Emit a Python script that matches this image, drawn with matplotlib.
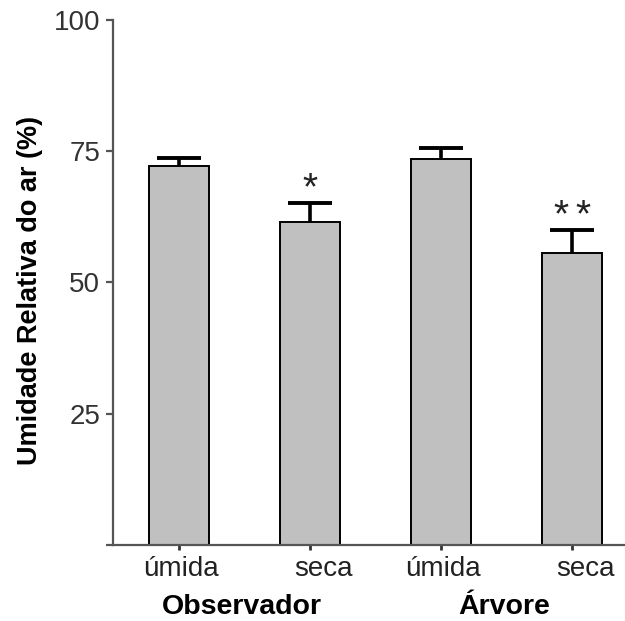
import matplotlib
matplotlib.use("Agg")
import matplotlib.pyplot as plt
from matplotlib.transforms import blended_transform_factory

# Relative air humidity by season, measured at the observer and at the tree
conditions = ["úmida", "seca", "úmida", "seca"]
groups = ["Observador", "Árvore"]
humidity = [72.2, 61.5, 73.6, 55.6]
sem = [1.6, 3.7, 2.0, 4.4]
significance = ["", "*", "", "**"]
yticks = [0, 25, 50, 75, 100]
ytick_labels = ["", "25", "50", "75", "100"]

plt.rcParams["font.family"] = ["Liberation Sans", "DejaVu Sans"]

fig = plt.figure(figsize=(6.25, 6.21), dpi=100)
ax = fig.add_axes([0.1803, 0.1224, 0.8197, 0.8454])

x = list(range(len(humidity)))
ax.bar(x, humidity, width=0.458, color="#c0c0c0", edgecolor="black",
       linewidth=1.4, zorder=2)
# upper error bars only
_, caps, _ = ax.errorbar(x, humidity, yerr=[[0] * len(sem), sem], fmt="none",
                         ecolor="black", elinewidth=2.6, capsize=16,
                         capthick=2.8, zorder=3)
if len(caps) == 2:
    caps[0].set_visible(False)

# significance marks, one asterisk glyph at a time
for xi, h, e, s in zip(x, humidity, sem, significance):
    n = len(s)
    for k, ch in enumerate(s):
        ax.annotate(ch, xy=(xi, h + e), xytext=((k - (n - 1) / 2) * 15.5, 2.5),
                    textcoords="offset points", ha="center", va="baseline",
                    fontsize=28, color="#222222")

ax.set_xlim(-0.509, 3.405)
ax.set_ylim(0, 100)

# axes styling
for side in ("top", "right"):
    ax.spines[side].set_visible(False)
for side in ("left", "bottom"):
    ax.spines[side].set_color("#555555")
    ax.spines[side].set_linewidth(1.6)

ax.set_yticks(yticks)
ax.set_yticklabels(ytick_labels, fontsize=20, color="#333333")
ax.tick_params(axis="y", direction="out", length=5, width=1.6,
               color="#555555", pad=4)
ax.set_xticks(x)
ax.set_xticklabels([""] * len(x))
ax.tick_params(axis="x", direction="out", length=3.5, width=2.0,
               color="#333333")

# category labels under each bar (dry-season labels sit slightly right)
trans = blended_transform_factory(ax.transData, ax.transAxes)
for xi, lab in zip(x, conditions):
    dx = 9.5 if lab == "seca" else 1.0
    ax.annotate(lab, xy=(xi, 0), xycoords=trans, xytext=(dx, -17),
                textcoords="offset points", ha="center", va="center",
                fontsize=20, color="#222222")

# group labels
for gi, g in enumerate(groups):
    mid = (x[2 * gi] + x[2 * gi + 1]) / 2
    ax.annotate(g, xy=(mid, 0), xycoords=trans, xytext=(-2, -50),
                textcoords="offset points", ha="center", va="baseline",
                fontsize=20.5, fontweight="bold", color="black")

fig.text(30 / 625, 0.533, "Umidade Relativa do ar (%)", rotation=90,
         ha="center", va="center", fontsize=19.5, fontweight="bold")

fig.savefig("out.png", dpi=100, facecolor="white")
